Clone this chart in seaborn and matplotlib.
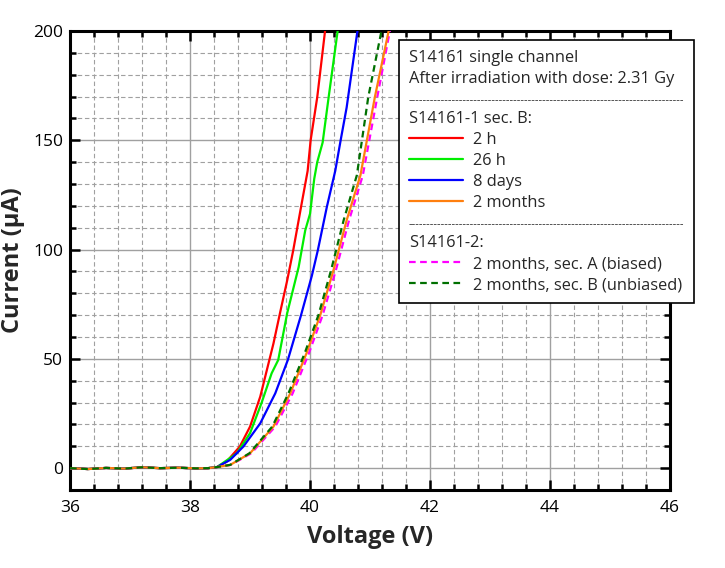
import matplotlib
matplotlib.use("Agg")
import matplotlib.pyplot as plt
from matplotlib.lines import Line2D
from matplotlib.ticker import MultipleLocator
import seaborn as sns
import numpy as np
import pandas as pd

# I-V curves (voltage in V, current in uA)
base_v = [36.0, 36.3, 36.6, 36.9, 37.2, 37.5, 37.8, 38.1, 38.3]
base_i = [0.0, -0.4, 0.1, -0.2, 0.4, 0.0, 0.2, -0.1, 0.0]

v_2h = base_v + [38.45, 38.61, 38.83, 39.0, 39.17, 39.39, 39.51, 39.62, 39.72, 39.86, 39.96, 40.01, 40.12, 40.25, 40.32]
i_2h = base_i + [0.5, 3.0, 9.9, 19.0, 32.7, 57.0, 72.3, 86.0, 99.7, 121.0, 136.0, 150.0, 169.7, 200.0, 215.0]

v_26h = base_v + [38.45, 38.78, 39.0, 39.19, 39.36, 39.47, 39.62, 39.81, 39.92, 40.0, 40.07, 40.12, 40.21, 40.31, 40.46, 40.53]
i_26h = base_i + [0.5, 6.8, 16.0, 29.7, 43.4, 49.5, 71.0, 92.0, 108.8, 116.4, 132.4, 140.0, 149.0, 169.7, 200.0, 212.0]

v_8d = base_v + [38.45, 38.67, 38.89, 39.17, 39.42, 39.63, 39.85, 40.03, 40.13, 40.28, 40.42, 40.51, 40.61, 40.79, 40.88]
i_8d = base_i + [0.5, 3.8, 9.9, 20.5, 34.2, 49.5, 70.0, 88.0, 99.7, 119.5, 136.0, 150.0, 165.0, 200.0, 215.0]

v_2m = base_v + [38.45, 38.67, 39.0, 39.39, 39.67, 39.94, 40.17, 40.39, 40.61, 40.84, 41.08, 41.31, 41.40]
i_2m = base_i + [0.5, 1.5, 6.8, 19.0, 34.2, 52.5, 70.0, 90.5, 113.4, 134.0, 169.7, 200.0, 212.0]

v_2m_a = base_v + [38.45, 38.68, 39.02, 39.42, 39.71, 39.98, 40.21, 40.43, 40.65, 40.88, 41.12, 41.33, 41.42]
i_2m_a = base_i + [0.5, 1.5, 6.8, 19.0, 34.2, 52.5, 70.0, 90.5, 113.4, 134.0, 169.7, 200.0, 212.0]

v_2m_b = base_v + [38.45, 38.67, 38.99, 39.37, 39.64, 39.91, 40.14, 40.35, 40.56, 40.78, 40.97, 41.19, 41.28]
i_2m_b = base_i + [0.5, 1.5, 6.8, 19.0, 34.2, 52.5, 70.0, 90.5, 113.4, 134.0, 169.7, 200.0, 212.0]

labels = ["2 h", "26 h", "8 days", "2 months",
          "2 months, sec. A (biased)", "2 months, sec. B (unbiased)"]
colors = ["#ff0000", "#00ee00", "#0000ff", "#ff7f0e", "#ff00ff", "#007000"]

sns.set_theme(style="ticks")
plt.rcParams["font.family"] = ["Open Sans", "DejaVu Sans"]

fig = plt.figure(figsize=(7.25, 5.68), dpi=100)
ax = fig.add_axes([0.0966, 0.1373, 0.8276, 0.8081])

series = [(v_2h, i_2h), (v_26h, i_26h), (v_8d, i_8d), (v_2m, i_2m),
          (v_2m_a, i_2m_a), (v_2m_b, i_2m_b)]
styles = ["-", "-", "-", "-", (0, (3, 2)), (0, (3, 2))]
zorders = [3, 3, 3, 4, 3.5, 5]

handles = []
for (v, i), lab, col, ls, z in zip(series, labels, colors, styles, zorders):
    df = pd.DataFrame({"V": v, "I": i})
    sns.lineplot(data=df, x="V", y="I", ax=ax, color=col, lw=1.6,
                 linestyle=ls, sort=False, estimator=None, zorder=z)
    handles.append(Line2D([], [], color=col, lw=1.6, linestyle=ls))

ax.set_xlim(36, 46)
ax.set_ylim(-10, 200)
ax.xaxis.set_major_locator(MultipleLocator(2))
ax.xaxis.set_minor_locator(MultipleLocator(0.4))
ax.yaxis.set_major_locator(MultipleLocator(50))
ax.yaxis.set_minor_locator(MultipleLocator(10))

ax.grid(which="major", color="#a0a0a0", lw=1.0, ls="-")
ax.grid(which="minor", color="#a0a0a0", lw=0.8, ls=(0, (4, 2.5)))
ax.set_axisbelow(True)

ax.tick_params(which="both", direction="in", top=True, right=True,
               labelsize=12.5, colors="black")
ax.tick_params(axis="x", which="both", pad=7)
ax.tick_params(axis="y", which="both", pad=5)
ax.tick_params(which="major", length=7.5, width=1.8)
ax.tick_params(which="minor", length=4.3, width=1.8)
for s in ax.spines.values():
    s.set_linewidth(2.2)
    s.set_color("black")

ax.set_xlabel("Voltage (V)", fontsize=17, fontweight="bold", labelpad=7)
ax.set_ylabel("Current (µA)", fontsize=17, fontweight="bold", labelpad=6)

# legend with header rows and separators
blank = Line2D([], [], color="none")
sep = "-" * 76
leg_handles = [blank, blank, blank, blank] + handles[:4] + [blank, blank] + handles[4:]
leg_labels = ["S14161 single channel", "After irradiation with dose: 2.31 Gy", sep,
              "S14161-1 sec. B:"] + labels[:4] + [sep, "S14161-2:"] + labels[4:]
leg = ax.legend(leg_handles, leg_labels, loc="upper left",
                bbox_to_anchor=(0.548, 0.980), borderaxespad=0,
                frameon=True, fancybox=False, framealpha=1, edgecolor="black",
                fontsize=11.8, handlelength=3.3, handletextpad=0.6,
                labelspacing=0.3, borderpad=0.6)
leg.get_frame().set_linewidth(1.2)
leg.set_zorder(10)
for t in leg.get_texts():
    if t.get_text() == sep:
        t.set_fontsize(8)
        t.set_color("#222222")

# header rows start where the line samples start
header_rows = {0, 1, 2, 3, 8, 9}
rows = leg._legend_handle_box.get_children()[0].get_children()
for k, row in enumerate(rows):
    if k in header_rows:
        row.sep = 0
        row.get_children()[0].width = 0

fig.savefig("out.png", dpi=100)
